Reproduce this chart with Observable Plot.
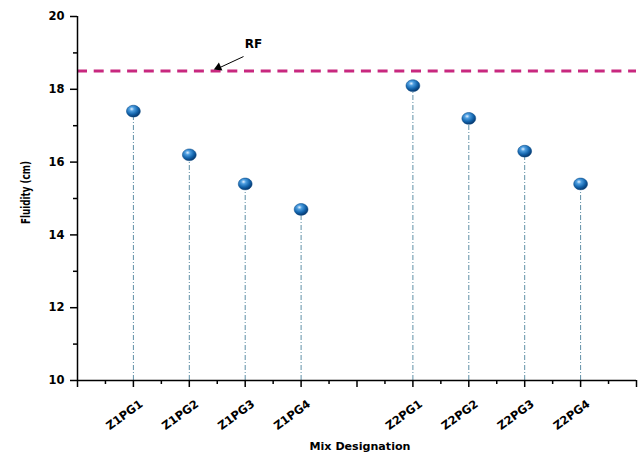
<!DOCTYPE html>
<html>
<head>
<meta charset="utf-8">
<script src="https://cdn.jsdelivr.net/npm/d3@7"></script>
<script src="https://cdn.jsdelivr.net/npm/@observablehq/plot@0.6"></script>
<style>
  body { margin: 0; background: #fff; }
  #chart { width: 639px; height: 456px; }
</style>
</head>
<body>
<div id="chart"></div>
<script>
// Mix designations, grouped by zone; a blank slot separates the two groups
const zones = ["Z1", "Z2"];
const grades = ["PG1", "PG2", "PG3", "PG4"];
const fluidity = [17.4, 16.2, 15.4, 14.7, 18.1, 17.2, 16.3, 15.4];
const referenceFluidity = 18.5;
const referenceLabel = "RF";
const yTicks = [10, 12, 14, 16, 18, 20];
const yTitle = "Fluidity (cm)";
const xTitle = "Mix Designation";

// slot index along the axis: 1–4 for the first zone, 6–9 for the second
const mixes = zones.flatMap((z, zi) =>
  grades.map((g, gi) => ({
    name: z + g,
    slot: zi * (grades.length + 1) + gi + 1,
    value: fluidity[zi * grades.length + gi]
  }))
);
const slotCount = zones.length * (grades.length + 1);
const slotName = new Map(mixes.map(d => [d.slot, d.name]));

// slightly wide ellipse used as the marker outline
const ballSymbol = {
  draw(context, size) {
    const r = Math.sqrt(size / Math.PI);
    const rx = r * 1.08, ry = r * 0.92, k = 0.5523;
    context.moveTo(rx, 0);
    context.bezierCurveTo(rx, ry * k, rx * k, ry, 0, ry);
    context.bezierCurveTo(-rx * k, ry, -rx, ry * k, -rx, 0);
    context.bezierCurveTo(-rx, -ry * k, -rx * k, -ry, 0, -ry);
    context.bezierCurveTo(rx * k, -ry, rx, -ry * k, rx, 0);
    context.closePath();
  }
};

const sans = "'DejaVu Sans', Verdana, sans-serif";

const chart = Plot.plot({
  width: 639,
  height: 456,
  marginLeft: 77,
  marginRight: 3,
  marginTop: 16,
  marginBottom: 76,
  style: {
    fontFamily: sans,
    fontSize: "11.5px",
    fontWeight: "bold",
    color: "#000",
    background: "#fff"
  },
  x: { domain: [0, slotCount], axis: null },
  y: { domain: [10, 20], axis: null },
  marks: [
    // reference fluidity
    Plot.ruleY([referenceFluidity], {
      stroke: "#c8287f", strokeWidth: 3, strokeDasharray: "10,6.7"
    }),
    // drop lines
    Plot.ruleX(mixes, {
      x: "slot", y1: 10, y2: "value",
      stroke: "#5f8fa6", strokeWidth: 1, strokeDasharray: "5,2,1,2"
    }),
    // y axis: major and minor ticks
    Plot.axisY(yTicks, {
      tickSize: 7, tickPadding: 6, strokeWidth: 1.5, label: null, fontSize: 11.5
    }),
    Plot.axisY(d3.range(11, 20, 2), {
      tickSize: 4, strokeWidth: 1.5, tickFormat: () => "", label: null
    }),
    // x axis: major and minor tick lines
    Plot.axisX(d3.range(0, slotCount + 1), {
      tickSize: 7, strokeWidth: 1.5, tickFormat: () => "", label: null
    }),
    Plot.axisX(d3.range(0.5, slotCount, 1), {
      tickSize: 4, strokeWidth: 1.5, tickFormat: () => "", label: null
    }),
    // x axis: slanted mix names
    Plot.axisX(mixes.map(d => d.slot), {
      tickSize: 0, tickRotate: -36, dx: 8, dy: 10,
      tickFormat: d => slotName.get(d), label: null, fontSize: 11.4
    }),
    Plot.ruleX([0], { stroke: "#000", strokeWidth: 1.5 }),
    Plot.ruleY([10], { stroke: "#000", strokeWidth: 1.5 }),
    // fluidity values
    Plot.dot(mixes, {
      x: "slot", y: "value", r: 6.4, symbol: ballSymbol,
      fill: "url(#ball)", stroke: "#0b4a86", strokeWidth: 0.5
    }),
    // RF callout
    Plot.text([referenceLabel], {
      x: 3.15, y: 19.23, text: d => d, fontSize: 12, fontWeight: "bold"
    }),
    Plot.link([0], {
      x1: 2.97, y1: 18.9, x2: 2.55, y2: 18.6, stroke: "#000", strokeWidth: 1
    }),
    Plot.dot([0], {
      x: 2.52, y: 18.6, symbol: "triangle", r: 3.2, rotate: 246, fill: "#000", stroke: "none"
    }),
    // axis titles
    Plot.text([yTitle], {
      frameAnchor: "left", dx: -52, dy: -6, rotate: -90, textAnchor: "middle",
      text: d => d, fontSize: 12.5
    }),
    Plot.text([xTitle], {
      frameAnchor: "bottom", dx: 3, dy: 69, text: d => d, fontSize: 11.1
    })
  ]
});

// the vertical title is set condensed along its run
d3.select(chart).selectAll("text")
  .filter(function () { return this.textContent === yTitle; })
  .attr("textLength", 63)
  .attr("lengthAdjust", "spacingAndGlyphs");

// glossy sphere fill for the markers
const defs = d3.select(chart).insert("defs", ":first-child");
const grad = defs.append("radialGradient")
  .attr("id", "ball").attr("cx", "38%").attr("cy", "32%").attr("r", "70%");
grad.append("stop").attr("offset", "0%").attr("stop-color", "#e3f1ff");
grad.append("stop").attr("offset", "25%").attr("stop-color", "#4d9ee0");
grad.append("stop").attr("offset", "65%").attr("stop-color", "#1263ab");
grad.append("stop").attr("offset", "100%").attr("stop-color", "#06356a");

document.getElementById("chart").append(chart);
</script>
</body>
</html>
